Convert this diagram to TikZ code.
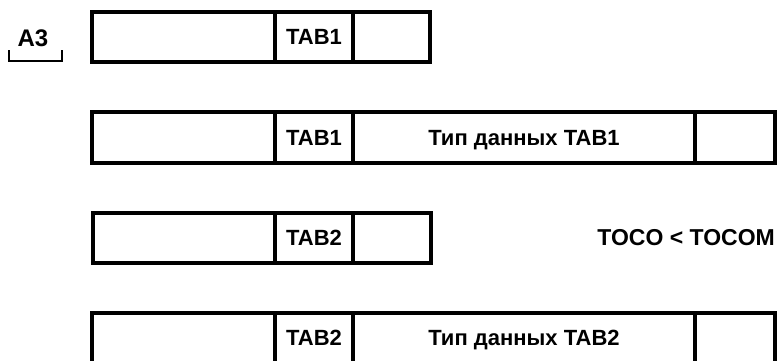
\documentclass[tikz,border=0pt]{standalone}
\usepackage{fontspec}
\setmainfont{Liberation Sans}

\begin{document}
\begin{tikzpicture}[x=1pt,y=1pt,yscale=-1,xscale=1,
  cell/.style={draw, line width=3.5pt, inner sep=0pt, minimum height=50pt, text height=15.5pt, text depth=0pt, font=\bfseries\fontsize{22}{26}\selectfont},
  lab/.style={inner sep=0pt, font=\bfseries\fontsize{22}{26}\selectfont}]
\useasboundingbox (0,0) rectangle (777,360);

% Row 1
\node [cell, minimum width=183pt] (rowAa) at (183.5,37) {};
\node [cell, minimum width=78pt] (rowAb) at (314,37) {TAB1};
\node [cell, minimum width=77pt] (rowAc) at (391.5,37) {};

% Row 2
\node [cell, minimum width=183pt, minimum height=51pt] (rowBa) at (183.5,137.5) {};
\node [cell, minimum width=78pt, minimum height=51pt] (rowBb) at (314,137.5) {TAB1};
\node [cell, minimum width=342pt, minimum height=51pt] (rowBc) at (524,137.5) {Тип данных TAB1};
\node [cell, minimum width=80pt, minimum height=51pt] (rowBd) at (735,137.5) {};

% Row 3
\node [cell, minimum width=182pt] (rowCa) at (184,238) {};
\node [cell, minimum width=78pt] (rowCb) at (314,238) {TAB2};
\node [cell, minimum width=78pt] (rowCc) at (392,238) {};

% Row 4 (bottom edge cut off by the page)
\node [cell, minimum width=183pt] (rowDa) at (183.5,338) {};
\node [cell, minimum width=78pt] (rowDb) at (314,338) {TAB2};
\node [cell, minimum width=342pt] (rowDc) at (524,338) {Тип данных TAB2};
\node [cell, minimum width=80pt] (rowDd) at (735,338) {};

% Label with bracket
\node [lab, font=\bfseries\fontsize{24}{28}\selectfont] (regA) at (33,38) {A3};
\draw [line width=2.8pt] (9,50) -- (9,61) -- (62,61) -- (62,50);

% Text Node
\node [lab, font=\bfseries\fontsize{23}{27}\selectfont, anchor=east] (cmp) at (775,238) {TOCO < TOCOM};

\end{tikzpicture}
\end{document}
